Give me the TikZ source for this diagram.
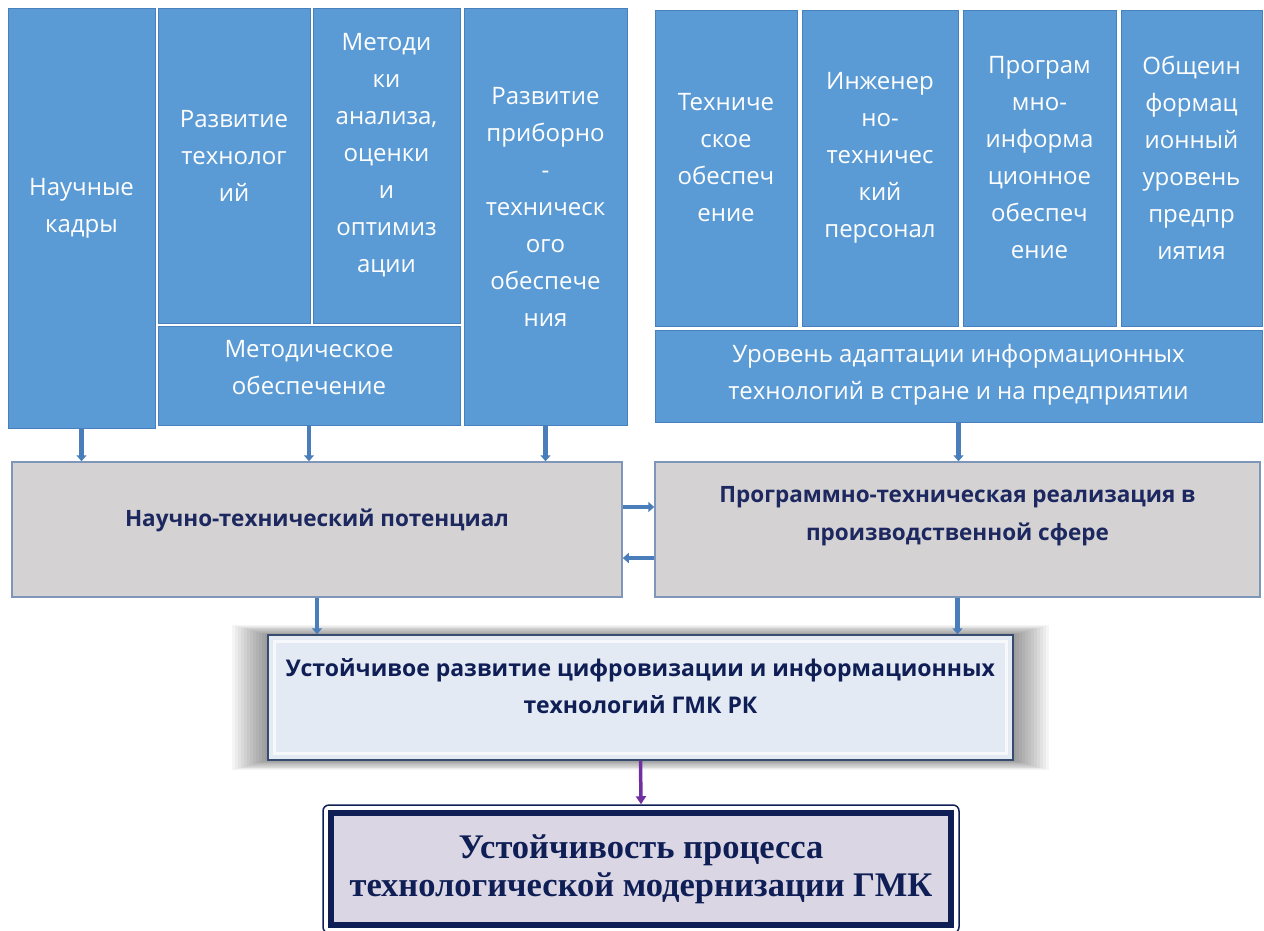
\documentclass[tikz,border=0pt]{standalone}
\usepackage{fontspec}
\setsansfont{Open Sans}
\newfontfamily\serfont{Liberation Serif}
\usetikzlibrary{arrows.meta}
\definecolor{boxblue}{RGB}{91,155,213}
\definecolor{boxedge}{RGB}{72,128,190}
\definecolor{arrblue}{RGB}{74,126,187}
\definecolor{greyfill}{RGB}{212,210,210}
\definecolor{greyedge}{RGB}{125,150,185}
\definecolor{navy}{RGB}{28,40,95}
\definecolor{ustfill}{RGB}{228,234,244}
\definecolor{ustedge}{RGB}{55,75,110}
\definecolor{lavender}{RGB}{218,214,228}
\definecolor{darknavy}{RGB}{15,30,85}
\definecolor{violetarr}{RGB}{112,48,160}
\tikzset{bluebox/.style = {draw=boxedge, fill=boxblue, line width=0.8pt, inner sep=0}}
\tikzset{bluetxt/.style = {text=white, align=center, yshift=10pt,
                           font=\sffamily\fontsize{24}{37}\selectfont}}
\tikzset{greybox/.style = {draw=greyedge, fill=greyfill, line width=1.5pt, inner sep=0,
                           minimum height=135pt}}
\tikzset{greytxt/.style = {text=navy, align=center,
                           font=\sffamily\bfseries\fontsize{22.5}{38}\selectfont}}
\tikzset{arr/.style = {draw=arrblue, line width=4.5pt, -{Triangle[width=10pt,length=6pt]}}}

\begin{document}
\begin{tikzpicture}[x=1pt, y=-1pt]
    \useasboundingbox (0,0) rectangle (1264,930);

    % top left group
    \node[bluebox, minimum width=147pt, minimum height=420pt,
          label={[bluetxt]center:{Научные\\кадры}}] (kadry) at (81.5,218) {};
    \node[bluebox, minimum width=152pt, minimum height=315pt,
          label={[bluetxt]center:{Развитие\\технолог\\ий}}] (tehnol) at (234,165.5) {};
    \node[bluebox, minimum width=147pt, minimum height=315pt,
          label={[bluetxt]center:{Методи\\ки\\анализа,\\оценки\\и\\оптимиз\\ации}}] (metodiki) at (386.5,165.5) {};
    \node[bluebox, minimum width=302pt, minimum height=99pt,
          label={[bluetxt, yshift=-2pt]center:{Методическое\\обеспечение}}] (metod) at (309,375.5) {};
    \node[bluebox, minimum width=163pt, minimum height=417pt,
          label={[bluetxt]center:{Развитие\\приборно\\-\\техническ\\ого\\обеспече\\ния}}] (pribor) at (545.5,216.5) {};

    % top right group
    \node[bluebox, minimum width=142pt, minimum height=316pt,
          label={[bluetxt]center:{Техниче\\ское\\обеспеч\\ение}}] (tehobesp) at (726,168) {};
    \node[bluebox, minimum width=156pt, minimum height=316pt,
          label={[bluetxt]center:{Инженер\\но-\\техничес\\кий\\персонал}}] (inzh) at (880,168) {};
    \node[bluebox, minimum width=153pt, minimum height=316pt,
          label={[bluetxt]center:{Програм\\мно-\\информа\\ционное\\обеспеч\\ение}}] (progobesp) at (1039.5,168) {};
    \node[bluebox, minimum width=141pt, minimum height=316pt,
          label={[bluetxt]center:{Общеин\\формац\\ионный\\уровень\\предпр\\иятия}}] (obsh) at (1191.5,168) {};
    \node[bluebox, minimum width=607pt, minimum height=92pt,
          label={[bluetxt, yshift=-9pt]center:{Уровень адаптации информационных\\технологий в стране и на предприятии}}] (adapt) at (958.5,376) {};

    % middle
    \node[greybox, minimum width=610pt,
          label={[greytxt, yshift=9.5pt]center:{Научно-технический потенциал}}] (ntp) at (317,529.5) {};
    \node[greybox, minimum width=605pt,
          label={[greytxt, yshift=13.5pt]center:{Программно-техническая реализация в\\производственной сфере}}] (prog) at (957.5,529.5) {};

    \draw[arr] (kadry.south) -- (kadry.south |- ntp.north);
    \draw[arr] (metod.south) -- (metod.south |- ntp.north);
    \draw[arr] (pribor.south) -- (pribor.south |- ntp.north);
    \draw[arr] (adapt.south) -- (adapt.south |- prog.north);
    \draw[arr] ([yshift=22.5pt]ntp.east) -- ([yshift=22.5pt]prog.west);
    \draw[arr] ([yshift=-28.5pt]prog.west) -- ([yshift=-28.5pt]ntp.east);

    % shadow
    \foreach \d in {3,6,...,36}
        \fill[black, opacity=0.04] (268-\d,635-\d/3.6) rectangle (1013+\d,760+\d/3.6);
    \node[draw=ustedge, fill=ustfill, line width=1.5pt, inner sep=0,
          minimum width=745pt, minimum height=125pt,
          label={[greytxt, text=darknavy, font=\sffamily\bfseries\fontsize{23}{37}\selectfont, yshift=11pt]center:{Устойчивое развитие цифровизации и информационных\\технологий ГМК РК}}] (ust) at (640.5,697.5) {};
    \draw[white, line width=3pt, opacity=0.7]
        ([shift={(7pt,-7pt)}]ust.north west) rectangle ([shift={(-7pt,7pt)}]ust.south east);

    \draw[arr] (ntp.south) -- (ntp.south |- ust.north);
    \draw[arr] (prog.south) -- (prog.south |- ust.north);

    % bottom
    \node[draw=darknavy, line width=1.5pt, rounded corners=6pt, inner sep=0,
          minimum width=636pt, minimum height=128pt] (outer) at (641,869) {};
    \node[draw=darknavy, fill=lavender, line width=6pt, inner sep=0,
          minimum width=620pt, minimum height=112pt, align=center, text=darknavy,
          font=\serfont\bfseries\fontsize{34.5}{38}\selectfont] (ustproc) at (641,869)
          {Устойчивость процесса\\технологической модернизации ГМК};

    \draw[violetarr, line width=3.5pt, -{Triangle[width=10pt,length=8pt]}] (ust.south) -- (outer.north);
\end{tikzpicture}
\end{document}
